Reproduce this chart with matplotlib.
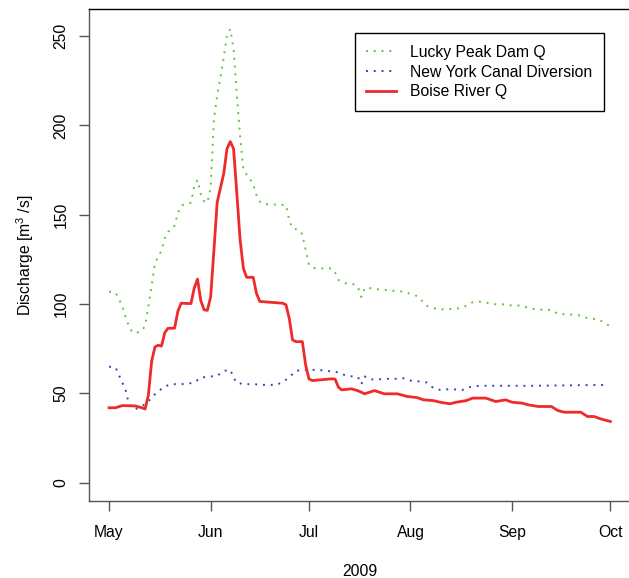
import numpy as np
import matplotlib
matplotlib.use('Agg')
import matplotlib.pyplot as plt
import matplotlib.dates as mdates

plt.rcParams['font.family'] = ['Liberation Sans', 'DejaVu Sans']
plt.rcParams['mathtext.fontset'] = 'custom'
plt.rcParams['mathtext.rm'] = 'Liberation Sans'
plt.rcParams['mathtext.it'] = 'Liberation Sans'

# days since 2009-05-01 and discharge
boise_day = [0, 2, 4, 8, 10, 11, 12, 13, 14, 15, 16, 17, 18, 20, 21, 22, 25, 26, 27, 28,
             29, 30, 31, 32, 33, 34, 35, 36, 37, 38, 39, 40, 41, 42, 44, 45, 46, 53, 54,
             55, 56, 57, 59, 60, 61, 62, 68, 69, 70, 71, 74, 76, 78, 81, 84, 88, 91, 94,
             96, 99, 101, 104, 106, 109, 111, 115, 118, 121, 123, 126, 128, 131, 135,
             137, 139, 144, 146, 148, 150, 153]
boise_q = [42, 42, 43.2, 43, 42, 41.3, 49, 68, 76, 77, 76.5, 84, 86.5, 86.5, 96, 100.5,
           100.3, 109, 114, 102, 96.8, 96.5, 104, 130, 157, 165, 173, 187, 191, 187, 162,
           136, 120, 115, 115, 106, 101.5, 100.5, 99.6, 92, 80, 79, 79, 66, 58.2, 57.2,
           58.2, 58, 53.5, 52, 52.6, 51.5, 49.8, 51.6, 49.8, 49.8, 48.3, 47.7, 46.4, 46,
           45.1, 44.2, 45.1, 46, 47.4, 47.4, 45.5, 46.4, 45.1, 44.6, 43.6, 42.7, 42.7,
           40.4, 39.5, 39.5, 37.1, 37.1, 35.8, 34.3]

lucky_day = [0, 2, 3, 4, 5, 6, 7, 8, 10, 11, 12, 13, 14, 15, 16, 17, 18, 19, 20, 21, 22,
             23, 25, 26, 27, 28, 29, 30, 31, 32, 33, 34, 35, 36, 37, 38, 39, 40, 41, 43,
             44, 45, 46, 47, 54, 55, 56, 58, 59, 60, 61, 62, 63, 68, 69, 70, 72, 75, 76,
             77, 78, 80, 82, 85, 87, 90, 92, 94, 96, 97, 100, 102, 105, 107, 109, 111,
             114, 116, 118, 121, 123, 125, 128, 130, 133, 135, 137, 140, 142, 144, 146,
             149, 151, 153]
lucky_q = [107, 106.4, 103, 99, 93, 88, 84.5, 83.7, 85, 88, 99, 110, 123, 126.5, 130, 137,
           140.5, 141.5, 144, 151, 155, 156, 156.8, 166, 169.5, 161.5, 157.5, 156.8, 165,
           203, 217, 227, 238, 251, 254, 243, 217, 194, 175, 170, 167, 161, 157.5, 156,
           155.5, 147, 142.4, 141.5, 139, 130.5, 122, 120.5, 120, 120, 117.6, 113.5, 111.7,
           111, 109.5, 104, 109, 108.9, 108.3, 107.9, 107.4, 107, 105.7, 104.6, 101, 99,
           97.3, 97.1, 97.3, 97.7, 99, 101.1, 101.4, 100.5, 99.9, 99.9, 99.2, 99.2, 98,
           97.1, 96.8, 96.8, 94.5, 94.3, 94, 93.6, 92.1, 91.5, 89.9, 87.4]

canal_day = [0, 2, 3, 4, 5, 6, 7, 8, 10, 12, 13, 15, 17, 19, 22, 24, 26, 28, 31, 33, 35,
             37, 38, 39, 42, 44, 47, 51, 53, 55, 57, 59, 64, 66, 69, 71, 73, 76, 77, 78,
             80, 83, 85, 88, 90, 92, 95, 97, 99, 101, 104, 108, 110, 113, 130, 152]
canal_q = [65, 64.5, 60.4, 56.3, 52.4, 44.5, 42, 41.2, 42.7, 45.5, 47.9, 51.1, 53.9, 55.2,
           55.2, 55.5, 56.1, 58.9, 59.5, 59.8, 62.6, 63.2, 59, 55.8, 55.2, 55.2, 54.8, 54.8,
           56.3, 59.1, 62.6, 63.2, 63.2, 62.6, 62.3, 60.8, 59.8, 59.2, 55.2, 59.5, 57.8,
           58, 58.2, 58.2, 58.5, 57.2, 56.7, 56.1, 53, 52, 52.4, 52, 53.5, 54.3, 54.3, 54.8]

month_ticks = ['2009-05-01', '2009-06-01', '2009-07-01', '2009-08-01', '2009-09-01', '2009-10-01']

start = np.datetime64('2009-05-01')


def toDates(days):
    return start + np.array(days).astype('timedelta64[D]')


fs = 11.3
fig = plt.figure(figsize=(6.29, 5.78), dpi=100)
ax = fig.add_axes([89 / 629, 1 - 501 / 578, (630.4 - 89) / 629, (501 - 9) / 578])

dots = (0, (1, 3.0))
ax.plot(toDates(lucky_day), lucky_q, color='#66C23F', lw=1.4, ls=dots, label='Lucky Peak Dam Q')
ax.plot(toDates(canal_day), canal_q, color='#3447B0', lw=1.4, ls=dots, label='New York Canal Diversion')
ax.plot(toDates(boise_day), boise_q, color='#EE2A2A', lw=2.0, label='Boise River Q')

x0 = mdates.date2num(np.datetime64('2009-05-01'))
x1 = mdates.date2num(np.datetime64('2009-10-01'))
pad = (x1 - x0) * 0.04
ax.set_xlim(x0 - pad, x1 + pad)
ax.set_ylim(-10.2, 265.2)

ax.set_xticks([mdates.date2num(np.datetime64(m)) for m in month_ticks])
ax.xaxis.set_major_formatter(mdates.DateFormatter('%b'))
ax.set_yticks([0, 50, 100, 150, 200, 250])

for side in ['left', 'bottom']:
    ax.spines[side].set_color('#555555')
for side in ['top', 'right']:
    ax.spines[side].set_color('black')
for s in ax.spines.values():
    s.set_linewidth(1.0)

ax.tick_params(axis='both', length=7.2, width=1.0, color='#555555', labelsize=fs,
               labelcolor='black')
ax.tick_params(axis='x', pad=10)
ax.tick_params(axis='y', pad=7.5)
plt.setp(ax.get_yticklabels(), rotation=90, va='center')

ax.set_xlabel('2009', fontsize=fs, labelpad=17.5)
ax.set_ylabel(r'Discharge [m$^3$ /s]', fontsize=fs, labelpad=13)

leg = ax.legend(loc='upper right', bbox_to_anchor=(0.951, 0.951), fontsize=fs,
                frameon=True, fancybox=False, edgecolor='black', framealpha=1,
                borderpad=0.75, labelspacing=0.3, handlelength=1.9, handletextpad=0.87,
                borderaxespad=0)
leg.get_frame().set_linewidth(1.0)

fig.savefig('out.png', dpi=100)
